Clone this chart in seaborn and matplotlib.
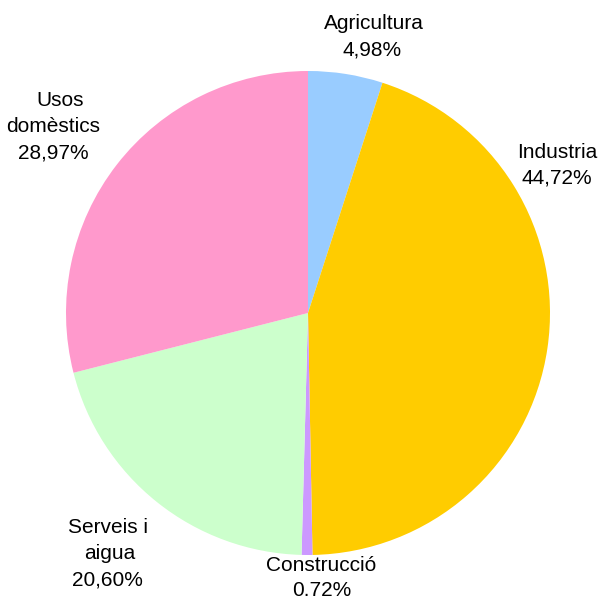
import matplotlib
matplotlib.use("Agg")
import matplotlib.pyplot as plt
import seaborn as sns

categories = ["Agricultura", "Industria", "Construcció", "Serveis i\naigua", "Usos\ndomèstics"]
values = [4.98, 44.72, 0.72, 20.60, 28.97]
pct_labels = ["4,98%", "44,72%", "0.72%", "20,60%", "28,97%"]
colors = ["#99CCFF", "#FFCC00", "#CC99FF", "#CCFFCC", "#FF99CC"]

sns.set_theme(style="white")
plt.rcParams["font.family"] = ["Liberation Sans", "DejaVu Sans"]

W, H = 602, 599
fig = plt.figure(figsize=(W / 100, H / 100), dpi=100)
cx, cy, r = 308, 313, 242
ax = fig.add_axes([(cx - r) / W, (H - cy - r) / H, 2 * r / W, 2 * r / H])
ax.pie(values, colors=colors, startangle=90, counterclock=False, radius=1,
       wedgeprops=dict(linewidth=0))
ax.set_xlim(-1, 1)
ax.set_ylim(-1, 1)
ax.axis("off")

# per-line label placement in pixels: (centre x list, first baseline y, line step)
layout = [
    ([374, 372], 29, 26),
    ([557, 557], 158, 26),
    ([321, 322], 571, 25),
    ([108, 110, 107], 533, 26),
    ([60, 53, 53], 106, 26),
]
for cat, pct, (xs, y0, step) in zip(categories, pct_labels, layout):
    lines = cat.split("\n") + [pct]
    for i, (line, px) in enumerate(zip(lines, xs)):
        py = y0 + i * step
        fig.text(px / W, 1 - py / H, line, ha="center", va="baseline",
                 fontsize=15, color="black")

fig.savefig("out.png", dpi=100)
